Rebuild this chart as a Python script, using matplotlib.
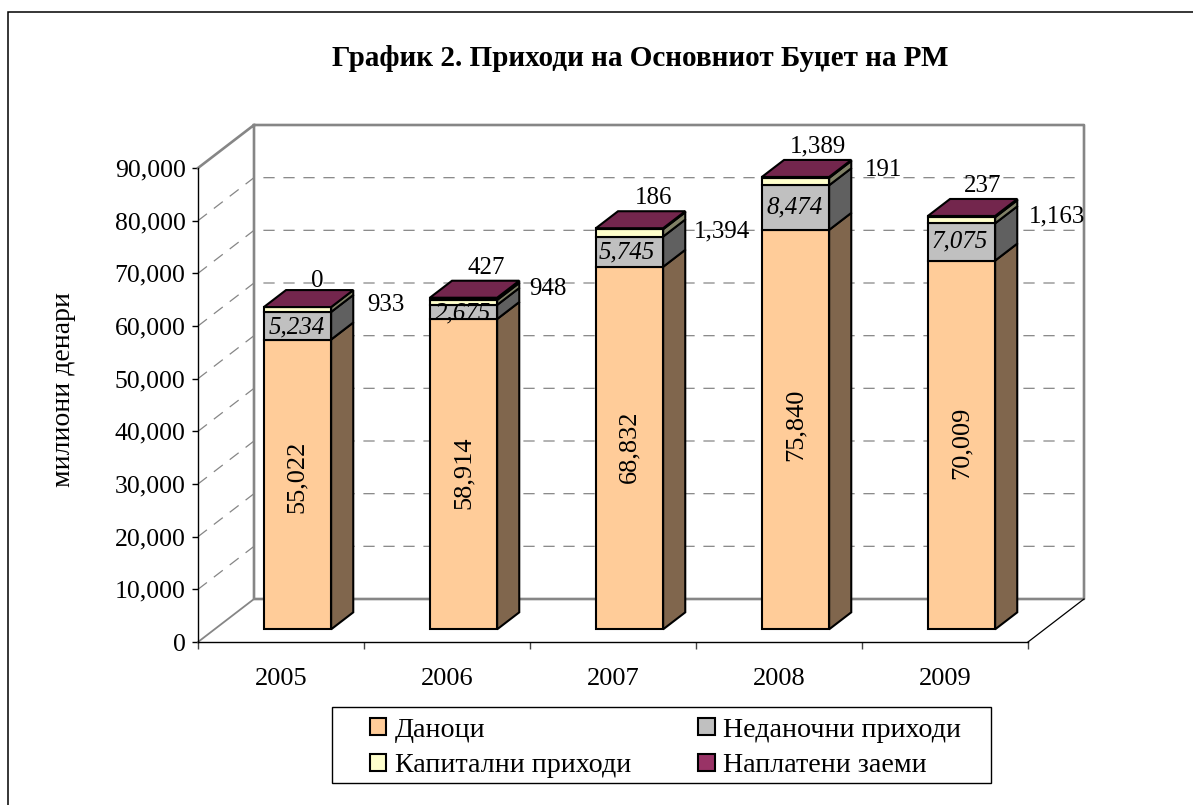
import matplotlib
matplotlib.use("Agg")
import matplotlib.pyplot as plt
from matplotlib.lines import Line2D
from matplotlib.patches import Patch, Polygon, Rectangle
from matplotlib.transforms import IdentityTransform

plt.rcParams['font.family'] = ['Liberation Serif', 'DejaVu Serif']

W, H = 1193, 805

years = ['2005', '2006', '2007', '2008', '2009']
danoci = [55022, 58914, 68832, 75840, 70009]
nedanocni = [5234, 2675, 5745, 8474, 7075]
kapitalni = [933, 948, 1394, 1389, 1163]
naplateni = [0, 427, 186, 191, 237]
series_names = ['Даноци', 'Неданочни приходи', 'Капитални приходи', 'Наплатени заеми']
series = [danoci, nedanocni, kapitalni, naplateni]
y_ticks = list(range(0, 90001, 10000))

front_colors = ['#FFCC99', '#C0C0C0', '#FFFFCC', '#993366']
side_colors = ['#80664D', '#606060', '#808066', '#4D1A33']
top_color = '#73264D'

# label centres in image pixels, same order as the years
tax_pos = [(297, 477), (464, 473), (629, 447), (796, 425), (962, 443)]
nontax_pos = [(297, 327), (463, 313), (627, 252), (795, 207), (960, 241)]
cap_pos = [(386, 305), (548, 289), (722, 231), (818, 146), (1057, 216)]
repaid_pos = [(317, 281), (486, 268), (654, 198), (884, 170), (983, 186)]

# fake 3d: how far the back wall is shifted from the front plane, in pixels
DX, DY = 56, 43
BAR_D0, BAR_D1 = 0.295, 0.69
BAR_W = 0.405

fig = plt.figure(figsize=(W / 100, H / 100), dpi=100, facecolor='white')
left, right, top, bottom = 198, 1028, 168, 642
ax = fig.add_axes([left / W, 1 - bottom / H, (right - left) / W, (bottom - top) / H])
ax.set_xlim(0, 5)
ax.set_ylim(0, 90000)
ax.patch.set_visible(False)


def project(x, v, d=0.0):
    p = ax.transData.transform((x, v))
    return (p[0] + d * DX, p[1] + d * DY)


def poly(points, **kw):
    ax.add_patch(Polygon(points, closed=True, transform=IdentityTransform(),
                         clip_on=False, **kw))


def line(points, **kw):
    xs = [p[0] for p in points]
    ys = [p[1] for p in points]
    ax.add_line(Line2D(xs, ys, transform=IdentityTransform(), clip_on=False, **kw))


def label(pos, text, size=18, **kw):
    fig.text(pos[0], H - pos[1], text, transform=IdentityTransform(),
             ha='center', va='center', fontsize=size, color='black', zorder=20, **kw)


# walls
wall = {'color': '#868686', 'lw': 1.9, 'zorder': 2}
line([project(0, 90000), project(0, 90000, 1), project(5, 90000, 1),
      project(5, 0, 1), project(0, 0, 1), project(0, 90000, 1)], **wall)
line([project(0, 0), project(0, 0, 1)], color='#868686', lw=1.3, zorder=2)
line([project(5, 0), project(5, 0, 1)], color='black', lw=0.9, zorder=2)

# gridlines on the left and the back wall
for v in y_ticks[1:-1]:
    line([project(0, v), project(0, v, 1), project(5, v, 1)],
         color='#868686', lw=0.9, dashes=(9, 7), zorder=1)

# bars
for i in range(len(years)):
    x0 = i + 0.5 - BAR_W / 2
    x1 = x0 + BAR_W
    base = 0
    for s, values in enumerate(series):
        v = values[i]
        if v > 0:
            edge = {'edgecolor': 'black', 'lw': 1.5, 'joinstyle': 'miter', 'zorder': 5 + s}
            poly([project(x1, base, BAR_D0), project(x1, base, BAR_D1),
                  project(x1, base + v, BAR_D1), project(x1, base + v, BAR_D0)],
                 facecolor=side_colors[s], **edge)
            poly([project(x0, base, BAR_D0), project(x1, base, BAR_D0),
                  project(x1, base + v, BAR_D0), project(x0, base + v, BAR_D0)],
                 facecolor=front_colors[s], **edge)
        base += v
    poly([project(x0, base, BAR_D0), project(x1, base, BAR_D0),
          project(x1, base, BAR_D1), project(x0, base, BAR_D1)],
         facecolor=top_color, edgecolor='black', lw=1.5, joinstyle='miter', zorder=10)

    label(tax_pos[i], f'{danoci[i]:,}', size=19, rotation=90)
    label(nontax_pos[i], f'{nedanocni[i]:,}', style='italic')
    label(cap_pos[i], f'{kapitalni[i]:,}')
    label(repaid_pos[i], f'{naplateni[i]:,}')

# axes
for side in ['top', 'right']:
    ax.spines[side].set_visible(False)
for side in ['left', 'bottom']:
    ax.spines[side].set_linewidth(1.0)
    ax.spines[side].set_zorder(3)
ax.set_yticks(y_ticks)
ax.set_yticklabels([f'{v:,}' for v in y_ticks], fontsize=18.5)
ax.tick_params(axis='y', length=4, width=1.0, pad=5)
ax.set_xticks(range(6))
ax.set_xticklabels([])
ax.tick_params(axis='x', which='major', length=5, width=1.0, color='#444444')
ax.set_xticks([i + 0.5 for i in range(5)], minor=True)
ax.set_xticklabels(years, minor=True, fontsize=19)
ax.tick_params(axis='x', which='minor', length=0, pad=19)

fig.text(640 / W, 1 - 59 / H, 'График 2. Приходи на Основниот Буџет на РМ',
         ha='center', va='center', fontsize=21, fontweight='bold')
fig.text(63 / W, 1 - 389 / H, 'милиони денари', rotation=90,
         ha='center', va='center', fontsize=20)

# legend, the box is drawn apart because its padding differs per side
fig.add_artist(Rectangle((332 / W, 1 - 783 / H), 659 / W, 76 / H, facecolor='white',
                         edgecolor='black', lw=1.0, transform=fig.transFigure))
handles = [Patch(facecolor=c, edgecolor='black', lw=1.5) for c in front_colors]
order = [0, 2, 1, 3]
fig.legend([handles[i] for i in order], [series_names[i] for i in order],
           ncols=2, loc='center', bbox_to_anchor=(665.5 / W, 1 - 748 / H),
           fontsize=20.2, frameon=False, handlelength=0.58, handleheight=0.58,
           handletextpad=0.3, columnspacing=2.4, labelspacing=0.38,
           borderpad=0, borderaxespad=0)

# frame of the picture, only top and left are on the page
fig.add_artist(Line2D([8 / W, 8 / W, 1], [0, 1 - 12 / H, 1 - 12 / H],
                      color='black', lw=1.1, solid_joinstyle='miter'))

fig.savefig('out.png', dpi=100)
